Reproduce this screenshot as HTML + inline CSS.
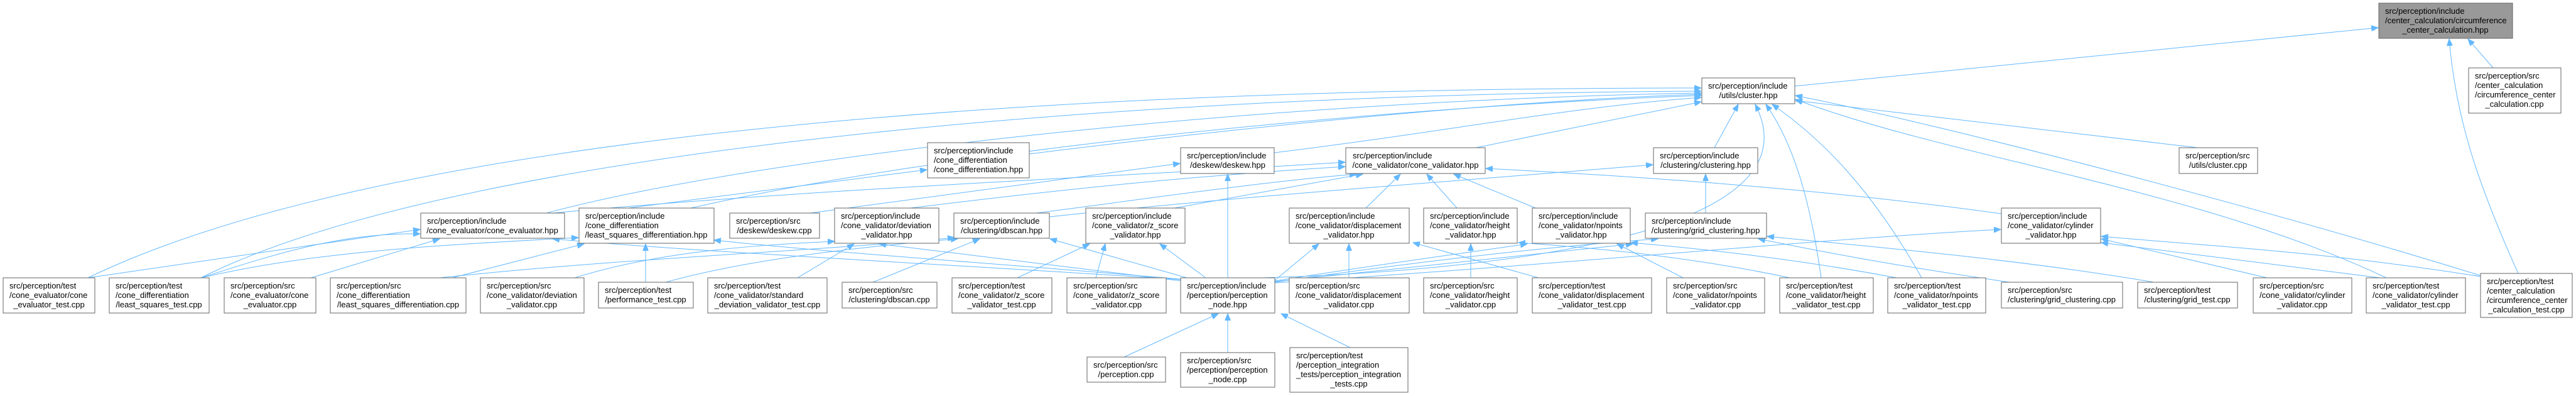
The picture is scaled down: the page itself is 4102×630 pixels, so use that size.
<!DOCTYPE html>
<html><head><meta charset="utf-8"><style>
html,body{margin:0;padding:0;background:#fff;}
svg{display:block}
text{font-family:"Liberation Sans",Arial,sans-serif;font-size:13px;fill:#000}
.n{fill:#fff;stroke:#666;stroke-width:1}
.g{fill:#999;stroke:#666;stroke-width:1}
.e{fill:none;stroke:#63b8ff;stroke-width:1}
</style></head><body>
<svg width="4102" height="630" viewBox="0 0 4102 630" xmlns="http://www.w3.org/2000/svg">
<defs><marker id="a" markerUnits="userSpaceOnUse" markerWidth="12" markerHeight="9" refX="11" refY="4.5" orient="auto"><path d="M0,0 L11,4.5 L0,9 z" fill="#63b8ff" stroke="#63b8ff"/></marker></defs>
<g class="e" marker-end="url(#a)">
<path d="M2858,137 L3787,44"/>
<path d="M3970,108 L3930,62"/>
<path d="M4010,435 C3940,280 3910,180 3900,62"/>
<path d="M140,442 C600,220 1600,140 2709,140"/>
<path d="M320,442 C700,250 1700,150 2709,145"/>
<path d="M1639,245 C2000,200 2400,160 2709,150"/>
<path d="M2029,243 C2300,210 2500,170 2709,155"/>
<path d="M2350,235 L2709,162"/>
<path d="M870,339 C1200,250 2000,160 2709,148"/>
<path d="M1100,331 C1500,240 2200,170 2709,152"/>
<path d="M2730,235 L2768,166"/>
<path d="M2010,442 C2400,430 2900,370 2795,166"/>
<path d="M2900,442 C2880,300 2850,220 2812,166"/>
<path d="M3060,442 C2980,300 2900,220 2822,166"/>
<path d="M3500,235 L2859,160"/>
<path d="M3955,440 C3600,330 3100,200 2859,152"/>
<path d="M3800,442 C3500,300 3100,250 2859,158"/>
<path d="M1000,331 L1476,270"/>
<path d="M1290,339 L1879,260"/>
<path d="M1955,442 L1955,277"/>
<path d="M1450,331 C1700,300 1900,280 2142,265"/>
<path d="M1650,339 C1800,320 2000,290 2160,277"/>
<path d="M1870,331 L2170,277"/>
<path d="M2175,331 L2230,277"/>
<path d="M2320,331 L2272,277"/>
<path d="M2445,331 L2315,277"/>
<path d="M3187,340 C2900,300 2600,280 2366,268"/>
<path d="M880,339 C1300,300 1800,280 2142,258"/>
<path d="M1671,345 C2000,310 2300,290 2632,262"/>
<path d="M2716,339 L2716,277"/>
<path d="M140,442 L669,365"/>
<path d="M320,442 C450,400 550,370 669,372"/>
<path d="M495,442 L700,380"/>
<path d="M1885,445 C1500,420 1100,400 880,380"/>
<path d="M320,442 C500,400 700,390 921,378"/>
<path d="M720,442 L930,388"/>
<path d="M1028,449 L1028,388"/>
<path d="M1890,445 C1600,420 1300,400 1137,382"/>
<path d="M915,442 C1050,400 1200,390 1329,384"/>
<path d="M1270,442 L1360,388"/>
<path d="M1890,448 L1400,388"/>
<path d="M1390,449 L1560,380"/>
<path d="M1060,449 C1200,410 1400,390 1525,380"/>
<path d="M1890,442 L1672,380"/>
<path d="M700,442 C1000,410 1300,400 1520,378"/>
<path d="M1620,442 L1735,388"/>
<path d="M1745,442 L1760,388"/>
<path d="M1920,442 L1847,388"/>
<path d="M2148,442 L2148,388"/>
<path d="M2450,442 L2250,386"/>
<path d="M2030,446 L2100,388"/>
<path d="M2342,442 L2342,388"/>
<path d="M2850,442 C2700,410 2550,395 2418,386"/>
<path d="M2030,447 C2200,420 2350,400 2432,388"/>
<path d="M2680,442 L2575,388"/>
<path d="M3020,442 C2850,410 2700,395 2597,386"/>
<path d="M2030,448 C2300,420 2500,400 2600,388"/>
<path d="M3200,449 C3000,420 2900,400 2800,380"/>
<path d="M3430,449 C3200,410 2950,390 2814,376"/>
<path d="M2030,449 C2300,410 2500,390 2640,380"/>
<path d="M3610,442 L3346,380"/>
<path d="M3790,442 L3346,386"/>
<path d="M2030,450 C2500,420 2900,380 3186,365"/>
<path d="M3950,440 C3700,400 3500,390 3346,376"/>
<path d="M1790,568 L1940,499"/>
<path d="M1955,561 L1955,499"/>
<path d="M2150,553 L2040,499"/>
</g>
<g>
<rect class="g" x="3788" y="5" width="213" height="56"/><text x="3798" y="22">src/perception/include</text><text x="3798" y="37">/center_calculation/circumference</text><text x="3894" y="52" text-anchor="middle">_center_calculation.hpp</text>
<rect class="n" x="3931" y="108" width="147" height="72"/><text x="3941" y="125">src/perception/src</text><text x="3941" y="140">/center_calculation</text><text x="3941" y="155">/circumference_center</text><text x="4004" y="170" text-anchor="middle">_calculation.cpp</text>
<rect class="n" x="2710" y="124" width="148" height="41"/><text x="2720" y="141">src/perception/include</text><text x="2784" y="156" text-anchor="middle">/utils/cluster.hpp</text>
<rect class="n" x="1477" y="227" width="162" height="56"/><text x="1487" y="244">src/perception/include</text><text x="1487" y="259">/cone_differentiation</text><text x="1558" y="274" text-anchor="middle">/cone_differentiation.hpp</text>
<rect class="n" x="1880" y="235" width="149" height="41"/><text x="1890" y="252">src/perception/include</text><text x="1955" y="267" text-anchor="middle">/deskew/deskew.hpp</text>
<rect class="n" x="2143" y="235" width="222" height="41"/><text x="2154" y="252">src/perception/include</text><text x="2254" y="267" text-anchor="middle">/cone_validator/cone_validator.hpp</text>
<rect class="n" x="2633" y="235" width="166" height="41"/><text x="2643" y="252">src/perception/include</text><text x="2716" y="267" text-anchor="middle">/clustering/clustering.hpp</text>
<rect class="n" x="3470" y="235" width="125" height="41"/><text x="3480" y="252">src/perception/src</text><text x="3532" y="267" text-anchor="middle">/utils/cluster.cpp</text>
<rect class="n" x="670" y="339" width="229" height="40"/><text x="680" y="356">src/perception/include</text><text x="784" y="371" text-anchor="middle">/cone_evaluator/cone_evaluator.hpp</text>
<rect class="n" x="922" y="331" width="215" height="56"/><text x="932" y="348">src/perception/include</text><text x="932" y="363">/cone_differentiation</text><text x="1029" y="378" text-anchor="middle">/least_squares_differentiation.hpp</text>
<rect class="n" x="1162" y="339" width="143" height="40"/><text x="1172" y="356">src/perception/src</text><text x="1233" y="371" text-anchor="middle">/deskew/deskew.cpp</text>
<rect class="n" x="1329" y="331" width="166" height="56"/><text x="1339" y="348">src/perception/include</text><text x="1339" y="363">/cone_validator/deviation</text><text x="1412" y="378" text-anchor="middle">_validator.hpp</text>
<rect class="n" x="1519" y="339" width="152" height="40"/><text x="1529" y="356">src/perception/include</text><text x="1595" y="371" text-anchor="middle">/clustering/dbscan.hpp</text>
<rect class="n" x="1729" y="331" width="158" height="56"/><text x="1739" y="348">src/perception/include</text><text x="1739" y="363">/cone_validator/z_score</text><text x="1808" y="378" text-anchor="middle">_validator.hpp</text>
<rect class="n" x="2053" y="331" width="191" height="56"/><text x="2063" y="348">src/perception/include</text><text x="2063" y="363">/cone_validator/displacement</text><text x="2148" y="378" text-anchor="middle">_validator.hpp</text>
<rect class="n" x="2267" y="331" width="149" height="56"/><text x="2277" y="348">src/perception/include</text><text x="2277" y="363">/cone_validator/height</text><text x="2342" y="378" text-anchor="middle">_validator.hpp</text>
<rect class="n" x="2440" y="331" width="156" height="56"/><text x="2450" y="348">src/perception/include</text><text x="2450" y="363">/cone_validator/npoints</text><text x="2518" y="378" text-anchor="middle">_validator.hpp</text>
<rect class="n" x="2620" y="339" width="193" height="40"/><text x="2630" y="356">src/perception/include</text><text x="2716" y="371" text-anchor="middle">/clustering/grid_clustering.hpp</text>
<rect class="n" x="3187" y="331" width="158" height="56"/><text x="3197" y="348">src/perception/include</text><text x="3197" y="363">/cone_validator/cylinder</text><text x="3266" y="378" text-anchor="middle">_validator.hpp</text>
<rect class="n" x="5" y="442" width="146" height="56"/><text x="15" y="459">src/perception/test</text><text x="15" y="474">/cone_evaluator/cone</text><text x="78" y="489" text-anchor="middle">_evaluator_test.cpp</text>
<rect class="n" x="174" y="442" width="159" height="56"/><text x="184" y="459">src/perception/test</text><text x="184" y="474">/cone_differentiation</text><text x="253" y="489" text-anchor="middle">/least_squares_test.cpp</text>
<rect class="n" x="357" y="442" width="146" height="56"/><text x="367" y="459">src/perception/src</text><text x="367" y="474">/cone_evaluator/cone</text><text x="430" y="489" text-anchor="middle">_evaluator.cpp</text>
<rect class="n" x="526" y="442" width="216" height="56"/><text x="536" y="459">src/perception/src</text><text x="536" y="474">/cone_differentiation</text><text x="634" y="489" text-anchor="middle">/least_squares_differentiation.cpp</text>
<rect class="n" x="765" y="442" width="165" height="56"/><text x="775" y="459">src/perception/src</text><text x="775" y="474">/cone_validator/deviation</text><text x="847" y="489" text-anchor="middle">_validator.cpp</text>
<rect class="n" x="953" y="449" width="151" height="41"/><text x="963" y="466">src/perception/test</text><text x="1028" y="481" text-anchor="middle">/performance_test.cpp</text>
<rect class="n" x="1127" y="442" width="190" height="56"/><text x="1137" y="459">src/perception/test</text><text x="1137" y="474">/cone_validator/standard</text><text x="1222" y="489" text-anchor="middle">_deviation_validator_test.cpp</text>
<rect class="n" x="1341" y="449" width="151" height="41"/><text x="1351" y="466">src/perception/src</text><text x="1416" y="481" text-anchor="middle">/clustering/dbscan.cpp</text>
<rect class="n" x="1516" y="442" width="159" height="56"/><text x="1526" y="459">src/perception/test</text><text x="1526" y="474">/cone_validator/z_score</text><text x="1595" y="489" text-anchor="middle">_validator_test.cpp</text>
<rect class="n" x="1699" y="442" width="158" height="56"/><text x="1709" y="459">src/perception/src</text><text x="1709" y="474">/cone_validator/z_score</text><text x="1778" y="489" text-anchor="middle">_validator.cpp</text>
<rect class="n" x="1880" y="442" width="150" height="56"/><text x="1890" y="459">src/perception/include</text><text x="1890" y="474">/perception/perception</text><text x="1955" y="489" text-anchor="middle">_node.hpp</text>
<rect class="n" x="2053" y="442" width="191" height="56"/><text x="2063" y="459">src/perception/src</text><text x="2063" y="474">/cone_validator/displacement</text><text x="2148" y="489" text-anchor="middle">_validator.cpp</text>
<rect class="n" x="2267" y="442" width="149" height="56"/><text x="2277" y="459">src/perception/src</text><text x="2277" y="474">/cone_validator/height</text><text x="2342" y="489" text-anchor="middle">_validator.cpp</text>
<rect class="n" x="2440" y="442" width="190" height="56"/><text x="2450" y="459">src/perception/test</text><text x="2450" y="474">/cone_validator/displacement</text><text x="2535" y="489" text-anchor="middle">_validator_test.cpp</text>
<rect class="n" x="2654" y="442" width="156" height="56"/><text x="2664" y="459">src/perception/src</text><text x="2664" y="474">/cone_validator/npoints</text><text x="2732" y="489" text-anchor="middle">_validator.cpp</text>
<rect class="n" x="2834" y="442" width="149" height="56"/><text x="2844" y="459">src/perception/test</text><text x="2844" y="474">/cone_validator/height</text><text x="2908" y="489" text-anchor="middle">_validator_test.cpp</text>
<rect class="n" x="3006" y="442" width="156" height="56"/><text x="3016" y="459">src/perception/test</text><text x="3016" y="474">/cone_validator/npoints</text><text x="3084" y="489" text-anchor="middle">_validator_test.cpp</text>
<rect class="n" x="3187" y="449" width="193" height="41"/><text x="3197" y="466">src/perception/src</text><text x="3283" y="481" text-anchor="middle">/clustering/grid_clustering.cpp</text>
<rect class="n" x="3404" y="449" width="159" height="41"/><text x="3414" y="466">src/perception/test</text><text x="3483" y="481" text-anchor="middle">/clustering/grid_test.cpp</text>
<rect class="n" x="3588" y="442" width="157" height="56"/><text x="3598" y="459">src/perception/src</text><text x="3598" y="474">/cone_validator/cylinder</text><text x="3666" y="489" text-anchor="middle">_validator.cpp</text>
<rect class="n" x="3768" y="442" width="158" height="56"/><text x="3778" y="459">src/perception/test</text><text x="3778" y="474">/cone_validator/cylinder</text><text x="3847" y="489" text-anchor="middle">_validator_test.cpp</text>
<rect class="n" x="3950" y="435" width="146" height="70"/><text x="3960" y="452">src/perception/test</text><text x="3960" y="467">/center_calculation</text><text x="3960" y="482">/circumference_center</text><text x="4023" y="497" text-anchor="middle">_calculation_test.cpp</text>
<rect class="n" x="1731" y="568" width="125" height="40"/><text x="1741" y="585">src/perception/src</text><text x="1793" y="600" text-anchor="middle">/perception.cpp</text>
<rect class="n" x="1880" y="561" width="150" height="55"/><text x="1890" y="578">src/perception/src</text><text x="1890" y="593">/perception/perception</text><text x="1955" y="608" text-anchor="middle">_node.cpp</text>
<rect class="n" x="2054" y="553" width="188" height="71"/><text x="2064" y="570">src/perception/test</text><text x="2064" y="585">/perception_integration</text><text x="2064" y="600">_tests/perception_integration</text><text x="2148" y="615" text-anchor="middle">_tests.cpp</text>
</g>
</svg>
</body></html>
